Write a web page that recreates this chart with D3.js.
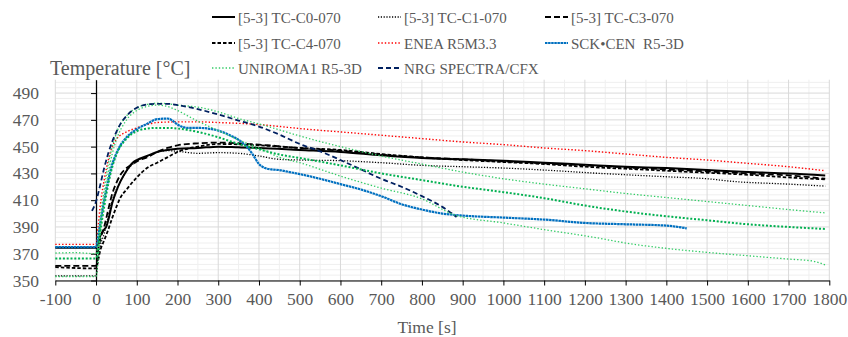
<!DOCTYPE html>
<html>
<head>
<meta charset="utf-8">
<script src="https://cdn.jsdelivr.net/npm/d3@7"></script>
<style>
    html, body { margin: 0; padding: 0; background: #fff; }
    svg text { font-family: "Liberation Serif", "Times New Roman", serif; fill: #595959; white-space: pre; }
</style>
</head>
<body>
<svg id="chart" width="848" height="337"></svg>
<script>
// time [s], temperature [°C]
const tcC0 = [[-100,374.5],[0,374.5],[5,378],[10,383],[20,388],[25,390],[30,395],[40,408],[50,417],[60,424],[75,432],[90,438],[100,440],[125,443],[150,446],[175,447.5],[200,448.5],[250,449],[300,450],[350,449.5],[400,449],[500,447.5],[600,446],[700,443.5],[800,441.5],[900,440.5],[1000,439.5],[1100,438],[1200,436.5],[1300,435],[1400,434],[1500,432.5],[1600,431],[1700,430],[1790,428.5]];
const tcC1 = [[-100,353.5],[0,353.5],[5,365],[10,375],[20,385],[30,398],[40,410],[50,418],[60,424],[75,432],[100,439],[125,443],[150,446],[175,447],[200,446.5],[250,445],[300,445.5],[350,445],[400,443],[450,440.5],[500,440],[600,439.5],[700,438],[800,436],[900,435],[1000,434],[1100,432.5],[1237,430],[1300,429],[1400,427.5],[1500,426],[1564,424],[1700,422],[1790,420.5]];
const tcC3 = [[-100,361],[0,361],[5,372],[10,380],[20,390],[30,403],[40,415],[50,423],[60,429],[75,434],[90,437],[100,439],[125,442],[150,446],[175,449],[200,451],[250,452.5],[300,453],[400,451.5],[500,449],[600,447],[700,444],[800,442],[900,440.5],[1000,439],[1100,437.5],[1200,436],[1300,434.5],[1400,433],[1500,431.5],[1600,430],[1700,428.5],[1790,426]];
const tcC4 = [[-100,360],[0,359],[5,365],[10,372],[20,380],[30,388],[40,397],[50,405],[60,412],[75,418],[100,427],[125,434],[150,438],[175,442],[200,446],[250,450],[300,452],[400,451],[500,449],[600,447.5],[700,444.5],[800,442],[900,440],[1000,438.5],[1100,437],[1200,435],[1300,433.5],[1400,432],[1500,430.5],[1600,429],[1700,427],[1790,425.5]];
const enea = [[-100,377],[0,377],[5,390],[10,405],[20,425],[30,440],[40,450],[50,455.5],[75,461],[100,464],[125,466.5],[150,468],[200,468.5],[250,468.5],[300,468],[400,466.5],[452,465],[500,463.5],[600,461],[700,458.5],[800,456],[900,453.5],[1000,451.5],[1100,449],[1200,447],[1300,444.5],[1400,442],[1500,440],[1600,437.5],[1700,435],[1790,432]];
const sckCen = [[-100,375],[0,375],[5,382],[10,392],[20,410],[30,425],[40,437],[50,445],[60,451],[75,457],[100,463],[125,467],[150,470.5],[175,471],[185,470],[200,466.5],[225,464],[250,464],[275,463.5],[300,462],[325,459],[350,455],[370,450],[385,444],[400,437],[415,434],[430,433],[450,432.5],[475,431],[500,429.5],[550,426],[600,422],[650,418],[700,413],[750,407],[800,403],[850,400],[900,398.5],[1000,397],[1100,395.5],[1200,393],[1300,392],[1400,391],[1450,389]];
const uniroma1 = [[-100,370.5],[-50,370.8],[0,370],[5,380],[10,395],[20,418],[30,437],[40,450],[50,460],[75,473],[100,479],[125,481.5],[150,482.5],[175,482],[200,481],[250,479.5],[300,476],[350,471],[400,467],[450,462.5],[500,458],[600,450],[700,443],[800,437],[900,431],[1000,426],[1100,422],[1200,418.5],[1300,415],[1400,412],[1500,409],[1600,406],[1700,403],[1790,400.5]];
const uniroma1B = [[-100,366.5],[0,366.5],[5,372],[10,385],[20,405],[30,422],[40,435],[50,444],[75,456],[100,461.5],[125,463.5],[150,464],[175,464],[200,463.5],[250,461],[300,457],[350,452],[400,448],[452,444],[500,441.5],[600,436],[700,430],[800,425],[900,420],[1000,416],[1100,411.5],[1200,406],[1300,401.5],[1400,398],[1500,395],[1600,392],[1700,390],[1790,388.5]];
const uniroma1C = [[-100,353],[0,353],[5,365],[10,385],[20,410],[30,430],[40,445],[50,455],[75,470],[100,477],[125,480],[150,481],[175,480],[200,477],[225,473],[250,469],[300,462],[350,455],[400,449],[450,442],[500,438],[600,428],[700,419],[800,411],[880,399],[1000,393],[1100,388],[1237,381.5],[1300,378],[1400,374],[1500,371],[1600,368.5],[1700,366],[1760,364.5],[1790,361.6]];
const nrg = [[-10,402],[-5,405],[0,409],[10,421],[20,434],[30,445],[40,454],[50,461],[60,467],[75,473],[100,479],[125,481.5],[150,482],[175,482],[200,481],[250,478],[300,474],[350,469.5],[400,465],[450,459],[500,452],[550,446.5],[600,440],[650,433],[700,426],[750,420],[800,413],[850,405],[885,397.5]];

const xTicks = d3.range(-100, 1801, 100);
const yTicks = d3.range(350, 491, 20);
const legendNames = ["[5-3] TC-C0-070", "[5-3] TC-C1-070", "[5-3] TC-C3-070", "[5-3] TC-C4-070", "ENEA R5M3.3", "SCK\u2022CEN  R5-3D", "UNIROMA1 R5-3D", "NRG SPECTRA/CFX"];

const series = [
    { data: tcC0, color: "#000", width: 2, dash: null },
    { data: tcC1, color: "#000", width: 1.3, dash: "1.2,1.6" },
    { data: tcC3, color: "#000", width: 1.8, dash: "6,3" },
    { data: tcC4, color: "#000", width: 1.8, dash: "3.5,2" },
    { data: enea, color: "#ff0000", width: 1.4, dash: "1.4,2" },
    { data: sckCen, color: "#0070c0", width: 2.2, dash: "2.5,0.6" },
    { data: uniroma1, color: "#33cc66", width: 1.3, dash: "1.4,2" },
    { data: nrg, color: "#002060", width: 1.8, dash: "5,3" },
    { data: uniroma1B, color: "#00b050", width: 2, dash: "2,1.8" },
    { data: uniroma1C, color: "#33cc66", width: 1.3, dash: "1.4,2" }
];

const svg = d3.select("#chart");
const x = d3.scaleLinear().domain([-100, 1800]).range([55.3, 829.3]);
const y = d3.scaleLinear().domain([350, 500]).range([280.5, 79.7]);

// grid
const grid = svg.append("g");
grid.selectAll(".vminor").data(d3.range(-50, 1800, 100)).join("line")
    .attr("x1", d => x(d)).attr("x2", d => x(d))
    .attr("y1", y(350)).attr("y2", y(500))
    .attr("stroke", "#efefef").attr("stroke-width", 1);
grid.selectAll(".hminor").data(d3.range(354, 501, 4).filter(v => (v - 350) % 20 !== 0)).join("line")
    .attr("x1", x(-100)).attr("x2", x(1800))
    .attr("y1", d => y(d)).attr("y2", d => y(d))
    .attr("stroke", "#efefef").attr("stroke-width", 1);
grid.selectAll(".vmajor").data(xTicks).join("line")
    .attr("x1", d => x(d)).attr("x2", d => x(d))
    .attr("y1", y(350)).attr("y2", y(500))
    .attr("stroke", "#d9d9d9").attr("stroke-width", 1);
grid.selectAll(".hmajor").data(yTicks).join("line")
    .attr("x1", x(-100)).attr("x2", x(1800))
    .attr("y1", d => y(d)).attr("y2", d => y(d))
    .attr("stroke", "#d9d9d9").attr("stroke-width", 1);

// axes
const xAxis = svg.append("g")
    .attr("transform", `translate(0,${ y(350) })`)
    .call(d3.axisBottom(x).tickValues(xTicks).tickSize(5).tickSizeOuter(0).tickFormat(d => String(d)));
xAxis.attr("font-family", null);
xAxis.select(".domain").attr("stroke", "#000").attr("stroke-width", 1.2);
xAxis.selectAll(".tick line").attr("stroke", "#000");
xAxis.selectAll(".tick text").attr("y", 12).attr("font-size", 17.5);

const yAxis = svg.append("g")
    .attr("transform", `translate(${ x(0) },0)`)
    .call(d3.axisLeft(y).tickValues(yTicks).tickSize(5).tickSizeOuter(0).tickFormat(""));
yAxis.select(".domain").attr("stroke", "#000").attr("stroke-width", 1.2);
yAxis.selectAll(".tick line").attr("stroke", "#000");

svg.append("g").selectAll("text").data(yTicks).join("text")
    .attr("x", 39).attr("y", d => y(d) + 6)
    .attr("text-anchor", "end").attr("font-size", 17.5)
    .text(d => d);

// lines
const line = d3.line()
    .x(d => x(d[0]))
    .y(d => y(d[1]))
    .curve(d3.curveMonotoneX);

svg.append("g").selectAll("path").data(series).join("path")
    .attr("fill", "none")
    .attr("stroke", d => d.color)
    .attr("stroke-width", d => d.width)
    .attr("stroke-dasharray", d => d.dash)
    .attr("d", d => line(d.data));

// legend
const legendCols = [212, 378, 545];
const legendRows = [17, 43, 68];
const legend = svg.append("g");
legendNames.forEach((name, i) => {
    const lx = legendCols[i % 3];
    const ly = legendRows[Math.floor(i / 3)];
    const s = series[i];
    legend.append("line")
        .attr("x1", lx).attr("x2", lx + 23)
        .attr("y1", ly).attr("y2", ly)
        .attr("stroke", s.color)
        .attr("stroke-width", s.width)
        .attr("stroke-dasharray", s.dash);
    legend.append("text")
        .attr("x", lx + 26).attr("y", ly + 5.5)
        .attr("font-size", 15)
        .text(name);
});

// axis titles
svg.append("text")
    .attr("x", 50).attr("y", 75)
    .attr("font-size", 20)
    .text("Temperature [°C]");
svg.append("text")
    .attr("x", 427).attr("y", 333)
    .attr("text-anchor", "middle")
    .attr("font-size", 17.5)
    .text("Time [s]");
</script>
</body>
</html>
